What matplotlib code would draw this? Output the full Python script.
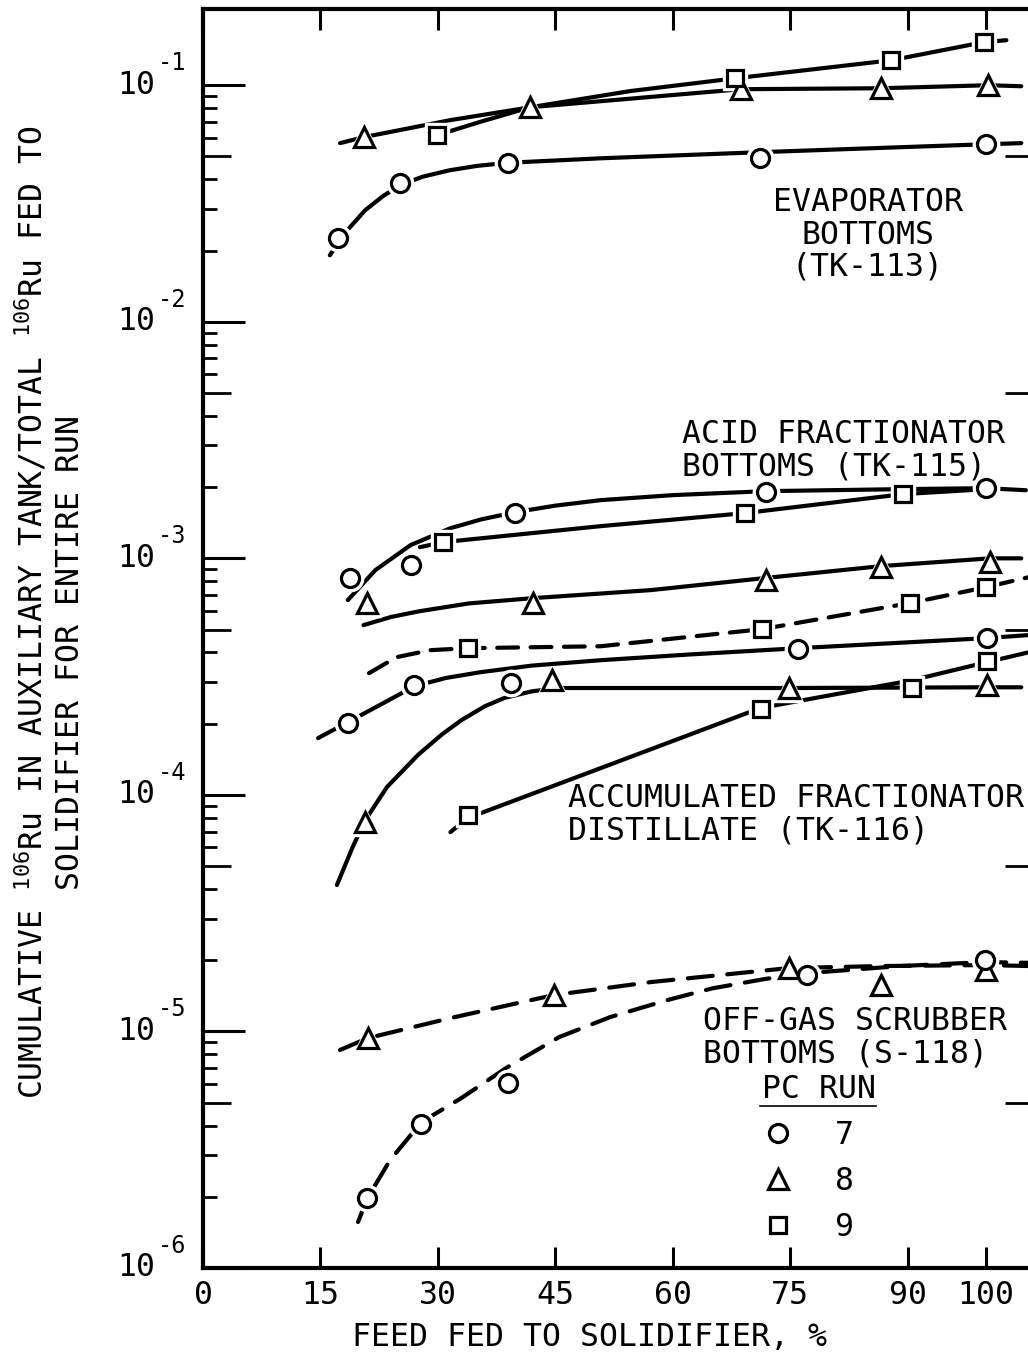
import matplotlib
matplotlib.use("Agg")
import matplotlib.pyplot as plt
from matplotlib.lines import Line2D
from matplotlib.ticker import FixedLocator, NullLocator, NullFormatter

plt.rcParams["font.family"] = ["DejaVu Sans Mono", "DejaVu Sans"]
FS = 22.7

# evaporator bottoms (TK-113)
ev7_x = [17.3, 25.2, 38.9, 71.1, 100.0]
ev7_y = [0.0226, 0.0385, 0.0468, 0.0491, 0.0563]
ev7_cx = [16.2, 18.2, 20.7, 23.0, 25.2, 28.0, 31.5, 35.0, 38.9, 50.8, 71.1, 89.1, 100.0, 104.5]
ev7_cy = [0.0191, 0.0239, 0.0296, 0.0340, 0.0378, 0.0410, 0.0437, 0.0456, 0.0470, 0.0491, 0.0521,
          0.0547, 0.0563, 0.0569]

ev8_x = [20.5, 41.8, 68.7, 86.6, 100.3]
ev8_y = [0.0603, 0.0807, 0.0962, 0.0971, 0.100]
ev8_cx = [17.5, 20.5, 31.6, 41.8, 55.9, 68.7, 86.6, 100.3, 104.5]
ev8_cy = [0.0569, 0.0603, 0.0712, 0.0807, 0.0885, 0.0962, 0.0971, 0.100, 0.099]

ev9_x = [29.9, 68.0, 87.9, 99.7]
ev9_y = [0.0615, 0.107, 0.1275, 0.152]
ev9_cx = [28.8, 29.9, 35.4, 41.8, 54.6, 68.0, 87.9, 99.7, 102.6]
ev9_cy = [0.0574, 0.0615, 0.0700, 0.0807, 0.0945, 0.107, 0.1275, 0.152, 0.155]

# acid fractionator bottoms (TK-115)
af7_x = [18.8, 26.5, 39.9, 71.9, 100.0]
af7_y = [8.25e-4, 9.36e-4, 1.55e-3, 1.905e-3, 1.98e-3]
af7_cx = [18.5, 22.0, 26.5, 31.6, 35.5, 39.9, 45.0, 50.8, 60.0, 71.9, 89.1, 100.0, 105.1]
af7_cy = [6.66e-4, 8.91e-4, 1.137e-3, 1.341e-3, 1.46e-3, 1.568e-3, 1.67e-3, 1.762e-3, 1.85e-3,
          1.923e-3, 1.961e-3, 1.98e-3, 1.94e-3]

af9_x = [30.7, 69.2, 89.4]
af9_y = [1.171e-3, 1.553e-3, 1.868e-3]
af9_cx = [27.7, 30.7, 50.8, 69.2, 89.4, 100.0]
af9_cy = [1.115e-3, 1.171e-3, 1.368e-3, 1.553e-3, 1.868e-3, 1.961e-3]

af8_x = [21.0, 42.2, 71.9, 86.6, 100.5]
af8_y = [6.47e-4, 6.47e-4, 8.09e-4, 9.18e-4, 9.64e-4]
af8_cx = [20.5, 24.0, 27.7, 34.0, 42.2, 57.2, 71.7, 86.6, 100.5, 104.5]
af8_cy = [5.22e-4, 5.65e-4, 5.98e-4, 6.45e-4, 6.79e-4, 7.34e-4, 8.25e-4, 9.27e-4, 1.0e-3, 1.0e-3]

af9b_x = [33.8, 71.4, 90.3, 100.0]
af9b_y = [4.17e-4, 5.02e-4, 6.47e-4, 7.55e-4]
af9b_cx = [21.2, 24.7, 29.0, 33.8, 50.8, 71.4, 90.3, 100.0, 105.5]
af9b_cy = [3.27e-4, 3.82e-4, 4.09e-4, 4.17e-4, 4.25e-4, 5.02e-4, 6.47e-4, 7.55e-4, 8.33e-4]

# accumulated fractionator distillate (TK-116)
ad7_x = [18.5, 27.0, 39.3, 76.0, 100.1]
ad7_y = [2.01e-4, 2.91e-4, 2.97e-4, 4.13e-4, 4.60e-4]
ad7_cx = [14.7, 18.5, 22.6, 27.0, 31.0, 35.4, 42.0, 50.8, 62.0, 76.0, 100.1, 105.5]
ad7_cy = [1.738e-4, 2.03e-4, 2.40e-4, 2.88e-4, 3.12e-4, 3.30e-4, 3.52e-4, 3.71e-4, 3.92e-4,
          4.17e-4, 4.60e-4, 4.74e-4]

ad8_x = [20.7, 44.6, 74.8, 100.1]
ad8_y = [7.67e-5, 3.06e-4, 2.83e-4, 2.91e-4]
ad8_cx = [17.1, 19.1, 20.7, 23.5, 27.5, 30.5, 33.0, 36.0, 38.5, 42.0, 45.5, 74.8, 100.1, 104.5]
ad8_cy = [4.16e-5, 6.0e-5, 7.8e-5, 1.08e-4, 1.48e-4, 1.8e-4, 2.07e-4, 2.37e-4, 2.57e-4,
          2.74e-4, 2.83e-4, 2.83e-4, 2.85e-4, 2.85e-4]

ad9_x = [33.8, 71.2, 90.5, 100.1]
ad9_y = [8.22e-5, 2.31e-4, 2.83e-4, 3.68e-4]
ad9_cx = [31.6, 33.8, 50.8, 71.2, 90.5, 100.1, 105.5]
ad9_cy = [6.96e-5, 7.98e-5, 1.298e-4, 2.33e-4, 3.05e-4, 3.64e-4, 4.01e-4]

# off-gas scrubber bottoms (S-118)
og8_x = [21.1, 44.8, 74.8, 86.6, 100.0]
og8_y = [9.38e-6, 1.425e-5, 1.853e-5, 1.57e-5, 1.82e-5]
og8_cx = [17.5, 21.1, 31.6, 44.8, 57.2, 74.8, 86.6, 100.0, 105.5]
og8_cy = [8.35e-6, 9.38e-6, 1.139e-5, 1.425e-5, 1.617e-5, 1.853e-5, 1.89e-5, 1.908e-5, 1.89e-5]

og7_x = [21.0, 27.9, 38.9, 77.2, 99.9]
og7_y = [1.976e-6, 4.06e-6, 6.05e-6, 1.73e-5, 2.0e-5]
og7_cx = [19.8, 21.0, 23.9, 27.9, 33.0, 38.9, 45.5, 52.0, 59.3, 65.0, 71.7, 77.2, 89.1, 99.9, 105.5]
og7_cy = [1.565e-6, 1.976e-6, 2.86e-6, 4.14e-6, 5.23e-6, 7.07e-6, 9.47e-6, 1.15e-5, 1.357e-5,
          1.52e-5, 1.665e-5, 1.765e-5, 1.89e-5, 1.965e-5, 1.95e-5]

xticks = [0, 15, 30, 45, 60, 75, 90, 100]
decades = [-6, -5, -4, -3, -2, -1]

MARK = {7: ("o", 13), 8: ("^", 14), 9: ("s", 11)}

fig = plt.figure(figsize=(10.28, 13.56), dpi=100)
ax = fig.add_axes([203 / 1028, 1 - 1268 / 1356, 830 / 1028, 1259 / 1356])
ax.set_yscale("log")
ax.set_xlim(0, 106)
ax.set_ylim(1e-6, 0.21)


def curve(cx, cy, mx, my, run, dashes=None):
    m, ms = MARK[run]
    kw = dict(color="black", lw=3.0, solid_capstyle="round", dash_capstyle="round", zorder=2)
    if dashes:
        kw["dashes"] = dashes
    ax.plot(cx, cy, **kw)
    ax.plot(mx, my, ls="none", marker=m, ms=ms + 6, mfc="white", mec="white", zorder=3)
    ax.plot(mx, my, ls="none", marker=m, ms=ms, mfc="white", mec="black", mew=2.3, zorder=4)


curve(ev7_cx, ev7_cy, ev7_x, ev7_y, 7)
curve(ev8_cx, ev8_cy, ev8_x, ev8_y, 8)
curve(ev9_cx, ev9_cy, ev9_x, ev9_y, 9)
curve(af7_cx, af7_cy, af7_x, af7_y, 7)
curve(af9_cx, af9_cy, af9_x, af9_y, 9)
curve(af8_cx, af8_cy, af8_x, af8_y, 8)
curve(af9b_cx, af9b_cy, af9b_x, af9b_y, 9, dashes=(5, 3))
curve(ad7_cx, ad7_cy, ad7_x, ad7_y, 7)
curve(ad8_cx, ad8_cy, ad8_x, ad8_y, 8)
curve(ad9_cx, ad9_cy, ad9_x, ad9_y, 9)
curve(og8_cx, og8_cy, og8_x, og8_y, 8, dashes=(6, 3.5))
curve(og7_cx, og7_cy, og7_x, og7_y, 7, dashes=(6, 3.5))

# axes frame and ticks
for s in ax.spines.values():
    s.set_linewidth(3)

ax.set_xticks(xticks)
ax.set_xticklabels([str(v) for v in xticks])
ax.tick_params(axis="x", which="major", direction="in", length=15, width=2.2,
               top=True, bottom=True, labelsize=FS, pad=9)

minor = [k * 10.0 ** d for d in decades for k in (2, 3, 4, 6, 7, 8, 9) if k * 10.0 ** d < 0.15]
fives = [5 * 10.0 ** d for d in decades]
ax.yaxis.set_major_locator(FixedLocator([10.0 ** d for d in decades]))
ax.yaxis.set_minor_locator(FixedLocator(minor))
ax.yaxis.set_major_formatter(NullFormatter())
ax.yaxis.set_minor_formatter(NullFormatter())
ax.tick_params(axis="y", which="major", direction="in", length=30, width=2.2, left=True, right=True)
ax.tick_params(axis="y", which="minor", direction="in", length=10, width=2.0, left=True, right=True)

ax5 = ax.twinx()
ax5.set_yscale("log")
ax5.set_ylim(ax.get_ylim())
ax5.yaxis.set_major_locator(FixedLocator(fives))
ax5.yaxis.set_minor_locator(NullLocator())
ax5.yaxis.set_major_formatter(NullFormatter())
ax5.tick_params(axis="y", which="major", direction="in", length=20, width=2.0, left=True, right=True)
for s in ax5.spines.values():
    s.set_visible(False)

for d in decades:
    ax.annotate("10", xy=(0, 10.0 ** d), xycoords=("axes fraction", "data"),
                xytext=(-48, 0), textcoords="offset pixels", ha="right", va="center",
                fontsize=FS, annotation_clip=False)
    ax.annotate("-%d" % abs(d), xy=(0, 10.0 ** d), xycoords=("axes fraction", "data"),
                xytext=(-45, 22), textcoords="offset pixels", ha="left", va="center",
                fontsize=17, annotation_clip=False)

# axis titles
fig.text(590 / 1028, 1 - 1338 / 1356, "FEED FED TO SOLIDIFIER, %", ha="center", va="center", fontsize=FS)
ru = r"$\mathregular{^{106}}$Ru"
fig.text(32 / 1028, 1 - 612 / 1356, "CUMULATIVE " + ru + " IN AUXILIARY TANK/TOTAL " + ru + " FED TO",
         rotation=90, ha="center", va="center", fontsize=FS)
fig.text(71 / 1028, 1 - 653 / 1356, "SOLIDIFIER FOR ENTIRE RUN",
         rotation=90, ha="center", va="center", fontsize=FS)

# group labels
fig.text(868 / 1028, 1 - 235 / 1356, "EVAPORATOR\nBOTTOMS\n(TK-113)", ha="center", va="center",
         multialignment="center", fontsize=FS, linespacing=1.06)
fig.text(682 / 1028, 1 - 451 / 1356, "ACID FRACTIONATOR\nBOTTOMS (TK-115)", ha="left", va="center",
         fontsize=FS, linespacing=1.06)
fig.text(568 / 1028, 1 - 815 / 1356, "ACCUMULATED FRACTIONATOR\nDISTILLATE (TK-116)", ha="left",
         va="center", fontsize=FS, linespacing=1.06)
fig.text(703 / 1028, 1 - 1038 / 1356, "OFF-GAS SCRUBBER\nBOTTOMS (S-118)", ha="left", va="center",
         fontsize=FS, linespacing=1.06)

# run legend
handles = [Line2D([], [], ls="none", marker=MARK[r][0], ms=MARK[r][1], mfc="white",
                  mec="black", mew=2.3) for r in (7, 8, 9)]
ax.legend(handles, ["7", "8", "9"], title="PC RUN", frameon=False, loc="upper left",
          bbox_to_anchor=(762 / 1028, 1 - 1074 / 1356), bbox_transform=fig.transFigure,
          alignment="left", handlelength=1.0, handletextpad=1.3, labelspacing=0.48,
          borderpad=0, borderaxespad=0, fontsize=FS, title_fontsize=FS)
fig.add_artist(Line2D([760 / 1028, 876 / 1028], [1 - 1106 / 1356] * 2,
                      transform=fig.transFigure, color="black", lw=1.2))

fig.savefig("out.png", dpi=100)
